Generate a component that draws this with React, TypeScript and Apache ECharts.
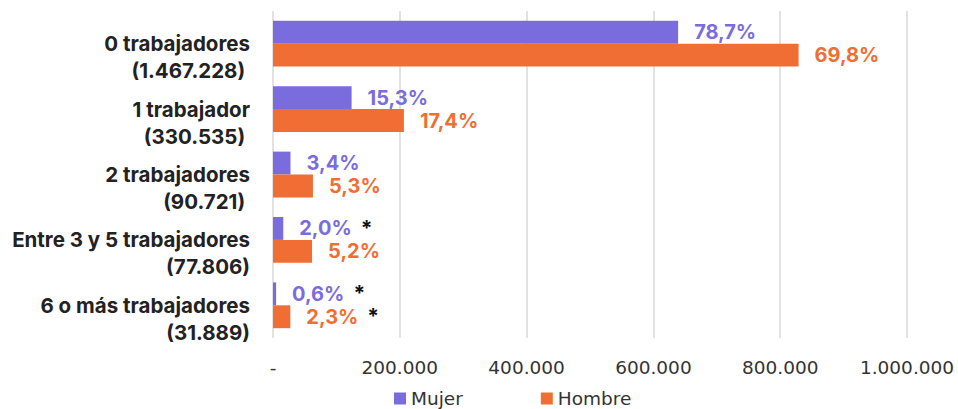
import React, { useEffect, useRef } from "react";
import * as echarts from "echarts";

const categories = [
  "0 trabajadores\n(1.467.228)\u00a0",
  "1 trabajador\n(330.535)\u00a0",
  "2 trabajadores\n(90.721)\u00a0",
  "Entre 3 y 5 trabajadores\n(77.806)",
  "6 o más trabajadores\n(31.889)",
];
const mujerValues = [639000, 124000, 27600, 16200, 4900];
const hombreValues = [829000, 206500, 63000, 61600, 27300];
const mujerPct = ["78,7%", "15,3%", "3,4%", "2,0%", "0,6%"];
const hombrePct = ["69,8%", "17,4%", "5,3%", "5,2%", "2,3%"];
const mujerStar = [false, false, false, true, true];
const hombreStar = [false, false, false, false, true];

const PURPLE = "#7B6CDE";
const ORANGE = "#F06E33";
const FONT = "Inter, Roboto, sans-serif";
const FONT2 = "'DejaVu Sans', sans-serif";

function fmtAxis(v: number): string {
  if (v === 0) return "-";
  return String(v).replace(/\B(?=(\d{3})+(?!\d))/g, ".");
}

export default function App() {
  const ref = useRef<HTMLDivElement>(null);
  useEffect(() => {
    if (!ref.current) return;
    const chart = echarts.init(ref.current, undefined, { renderer: "svg" });
    const mkLabel = (pct: string[], star: boolean[], color: string) => ({
      show: true,
      position: "right",
      distance: 16,
      formatter: (p: any) =>
        star[p.dataIndex] ? `{v|${pct[p.dataIndex]}}{s|*}` : `{v|${pct[p.dataIndex]}}`,
      rich: {
        v: { color, fontSize: 20, fontWeight: "bold", fontFamily: FONT },
        s: { color: "#111", fontSize: 21, fontWeight: "bold", fontFamily: FONT, padding: [0, 0, 0, 9] },
      },
    });
    chart.setOption({
      animation: false,
      textStyle: { fontFamily: FONT },
      grid: { left: 273, right: 51, top: 11, bottom: 71, containLabel: false },
      legend: {
        left: 394,
        top: 389,
        padding: 0,
        itemWidth: 12,
        itemHeight: 12,
        itemGap: 78,
        icon: "rect",
        textStyle: { fontSize: 18.5, color: "#333", fontFamily: FONT2 },
        data: ["Mujer", "Hombre"],
      },
      xAxis: {
        type: "value",
        min: 0,
        max: 1000000,
        interval: 200000,
        axisLine: { show: false },
        axisTick: { show: false },
        splitLine: { show: true, lineStyle: { color: "#d9d9d9", width: 1.5 } },
        axisLabel: {
          formatter: fmtAxis,
          fontSize: 18.5,
          color: "#333",
          margin: 20,
          fontFamily: FONT2,
        },
      },
      yAxis: {
        type: "category",
        inverse: true,
        data: categories,
        axisLine: { show: false },
        axisTick: { show: false },
        axisLabel: {
          interval: 0,
          formatter: (v: string) => "\u00a0\n" + v,
          fontSize: 20.5,
          fontWeight: "bold",
          color: "#222",
          lineHeight: 27,
          margin: 23,
          align: "right",
          fontFamily: FONT,
        },
      },
      series: [
        {
          name: "Mujer",
          type: "bar",
          data: mujerValues,
          itemStyle: { color: PURPLE },
          barGap: "0%",
          barCategoryGap: "30%",
          label: mkLabel(mujerPct, mujerStar, PURPLE),
        },
        {
          name: "Hombre",
          type: "bar",
          data: hombreValues,
          itemStyle: { color: ORANGE },
          barGap: "0%",
          barCategoryGap: "30%",
          label: mkLabel(hombrePct, hombreStar, ORANGE),
        },
      ],
    });
    return () => chart.dispose();
  }, []);
  return (
    <div
      ref={ref}
      style={{ position: "absolute", left: 0, top: 0, width: 958, height: 409, background: "#fff" }}
    />
  );
}
